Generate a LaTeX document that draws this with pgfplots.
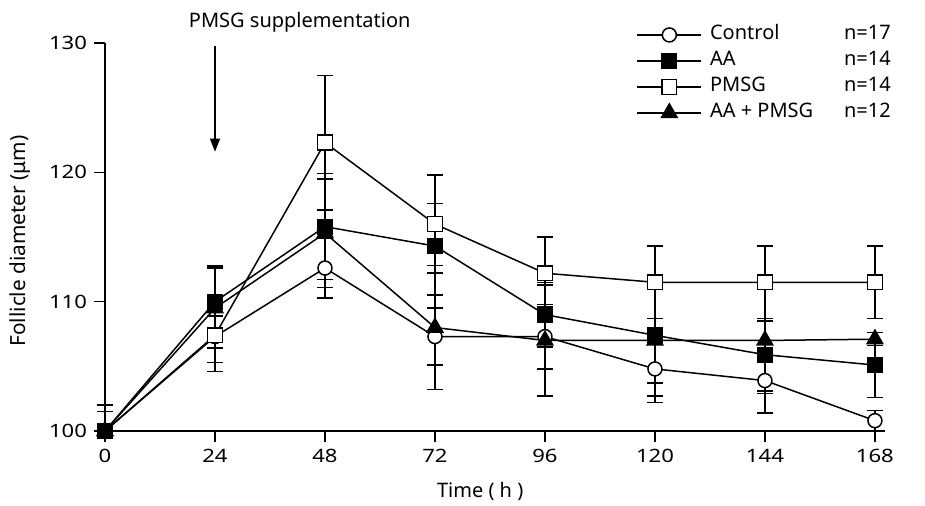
\documentclass[border=0pt]{standalone}
\usepackage{fontspec}
\setmainfont{Noto Sans}
\newfontfamily\tickfont{Noto Sans}[FakeStretch=1.2]
\usepackage{pgfplots}
\usepackage{pgfplotstable}
\pgfplotsset{compat=1.18}
\usetikzlibrary{arrows.meta}

% x = time (h), y = mean diameter, ep/em = upper/lower error
\pgfplotstableread{
x   y     ep    em
0   100   2.0   0
24  107.3 1.6   2.0
48  112.6 2.3   2.3
72  107.3 2.2   2.2
96  107.3 2.5   2.5
120 104.8 2.6   2.6
144 103.9 2.5   2.5
168 100.8 0.8   0.8
}\control
\pgfplotstableread{
x   y     ep    em
0   100   1.5   0
24  110.0 2.75  2.75
48  115.8 4.1   4.1
72  114.3 3.3   3.8
96  109.0 2.5   2.5
120 107.4 3.7   3.7
144 105.9 2.8   2.8
168 105.1 2.5   2.5
}\aa
\pgfplotstableread{
x   y     ep    em
0   100   0     0
24  107.4 2.8   2.8
48  122.3 5.2   5.2
72  116.0 3.8   3.8
96  112.2 2.8   2.8
120 111.5 2.8   2.8
144 111.5 2.8   2.8
168 111.5 2.8   2.8
}\pmsg
\pgfplotstableread{
x   y     ep    em
0   100   0     0
24  109.5 3.1   3.1
48  115.3 4.2   4.2
72  108.0 4.8   4.8
96  107.0 4.3   4.3
120 107.0 4.3   4.3
144 107.0 1.5   4.1
168 107.1 0.5   0.5
}\aapmsg

\begin{document}
\begin{tikzpicture}[font=\fontsize{10}{12}\selectfont]
\begin{axis}[
  scale only axis, width=390pt, height=194pt,
  xmin=0, xmax=170.2, ymin=100, ymax=130,
  axis x line*=bottom, axis y line*=left,
  axis line style={-, line width=0.7pt},
  xtick={0,24,48,72,96,120,144,168},
  ytick={100,110,120,130},
  tick align=outside, major tick length=5.5pt,
  tick style={line width=0.7pt, black},
  /pgf/number format/assume math mode=true,
  tick label style={font=\tickfont\fontsize{9.2}{11}\selectfont},
  xlabel={Time ( h )},
  ylabel={Follicle diameter (μm)},
  xlabel style={at={(axis description cs:0.481,-0.157)}, anchor=center},
  ylabel style={at={(axis description cs:-0.109,0.49)}, anchor=center,
    font=\fontsize{10.4}{12}\selectfont},
  clip=false,
  legend cell align=left,
  legend style={at={(axis description cs:0.681,1.045)}, anchor=north west,
    draw=none, fill=none, inner sep=0pt, row sep=4pt, column sep=4pt,
    nodes={inner sep=0pt, text height=7pt, text depth=2pt}},
  legend image code/.code={\draw[mark repeat=2,mark phase=2,#1]
    plot coordinates {(0pt,0pt)(16pt,0pt)(32pt,0pt)};},
  every axis plot/.append style={line width=0.75pt, black},
  error bars/error bar style={solid, black, line width=0.75pt},
  error bars/error mark options={rotate=90, mark size=4pt, line width=0.75pt},
]
% error bars first, so the markers sit on top of them
\addplot[forget plot, only marks, mark=none, error bars/.cd, y dir=both, y explicit]
  table[x=x, y=y, y error plus=ep, y error minus=em] {\control};
\addplot[forget plot, only marks, mark=none, error bars/.cd, y dir=both, y explicit]
  table[x=x, y=y, y error plus=ep, y error minus=em] {\aa};
\addplot[forget plot, only marks, mark=none, error bars/.cd, y dir=both, y explicit]
  table[x=x, y=y, y error plus=ep, y error minus=em] {\pmsg};
\addplot[forget plot, only marks, mark=none, error bars/.cd, y dir=both, y explicit]
  table[x=x, y=y, y error plus=ep, y error minus=em] {\aapmsg};

\addplot[forget plot, mark=*, mark size=3.5pt, mark options={solid, fill=white}]
  table[x=x, y=y] {\control};
\addplot[forget plot, mark=square*, mark size=3.7pt, mark options={solid, fill=white}]
  table[x=x, y=y] {\pmsg};
\addplot[forget plot, mark=triangle*, mark size=4.5pt, mark options={solid, fill=black}]
  table[x=x, y=y] {\aapmsg};
\addplot[forget plot, mark=square*, mark size=3.7pt, mark options={solid, fill=black}]
  table[x=x, y=y] {\aa};

\addlegendimage{mark=*, mark size=3.5pt, mark options={solid, fill=white}}
\addlegendentry{\makebox[67pt][l]{Control}n=17}
\addlegendimage{mark=square*, mark size=3.7pt, mark options={solid, fill=black}}
\addlegendentry{\makebox[67pt][l]{AA}n=14}
\addlegendimage{mark=square*, mark size=3.7pt, mark options={solid, fill=white}}
\addlegendentry{\makebox[67pt][l]{PMSG}n=14}
\addlegendimage{mark=triangle*, mark size=4.5pt, mark options={solid, fill=black}}
\addlegendentry{\makebox[67pt][l]{AA + PMSG}n=12}

% PMSG supplementation arrow
\draw[line width=0.6pt, -{Triangle[width=5pt, length=6.5pt]}]
  (axis cs:24,129.8) -- (axis cs:24,121.6);
\node[anchor=center] at (axis cs:42.5,131.6) {PMSG supplementation};
\end{axis}
\pgfresetboundingbox
\path ([xshift=-52.5pt, yshift=-37pt]current axis.south west)
  rectangle ([xshift=410pt, yshift=215.5pt]current axis.south west);
\end{tikzpicture}
\end{document}
